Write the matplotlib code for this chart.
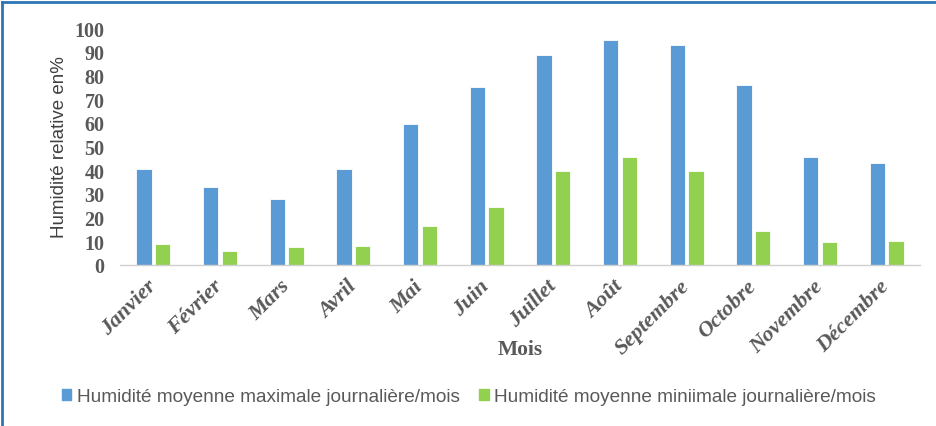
import numpy as np
from matplotlib import pyplot as plt
from matplotlib.lines import Line2D
from matplotlib.patches import Patch
from matplotlib.transforms import ScaledTranslation

mois = ['Janvier', 'Février', 'Mars', 'Avril', 'Mai', 'Juin', 'Juillet',
        'Août', 'Septembre', 'Octobre', 'Novembre', 'Décembre']
hum_max = [40.5, 32.7, 27.8, 40.5, 59.5, 75.3, 88.7, 95.2, 93.1, 76.0, 45.7, 42.9]
hum_min = [8.7, 5.9, 7.3, 8.0, 16.5, 24.3, 39.8, 45.7, 39.8, 14.4, 9.4, 10.2]
y_ticks = list(range(0, 101, 10))

label_max = 'Humidité moyenne maximale journalière/mois'
label_min = 'Humidité moyenne miniimale journalière/mois'

blue = '#5B9BD5'
green = '#92D050'
grey = '#595959'

fig = plt.figure(figsize=(9.36, 4.27), dpi=100)
ax = fig.add_axes([120/936, 1 - 265.7/427, 800/936, (265.7 - 29.3)/427])

x = np.arange(len(mois))
w = 0.23
ax.bar(x - 0.14, hum_max, w, color=blue, edgecolor='white', linewidth=0.6)
ax.bar(x + 0.14, hum_min, w, color=green, edgecolor='white', linewidth=0.6)

ax.set_xlim(-0.5, len(mois) - 0.5)
ax.set_ylim(0, 100)
for s in ['top', 'right', 'left']:
    ax.spines[s].set_visible(False)
ax.spines['bottom'].set_color('#D0D0D0')
ax.spines['bottom'].set_linewidth(1.0)

ax.set_yticks(y_ticks)
ax.set_yticklabels([str(v) for v in y_ticks], family='Liberation Serif',
                   fontweight='bold', fontsize=14.5, color=grey)
ax.set_xticks(x)
ax.set_xticklabels(mois, family='Liberation Serif', fontweight='bold',
                   style='italic', fontsize=16, color=grey,
                   rotation=45, ha='right', va='top')
ax.tick_params(axis='y', length=0, pad=11)
ax.tick_params(axis='x', length=0, pad=8)
# decaler un peu les mois vers la droite
shift = ScaledTranslation(7/100, 0, fig.dpi_scale_trans)
for lab in ax.get_xticklabels():
    lab.set_transform(lab.get_transform() + shift)

ax.set_ylabel('Humidité relative en%', family=['Liberation Sans Narrow', 'Liberation Sans'],
              fontsize=13.5, color='#404040', labelpad=5)
fig.text(520/936, 1 - 350/427, 'Mois', family='Liberation Serif', fontweight='bold',
         fontsize=15.5, color=grey, ha='center', va='center')

handles = [Patch(color=blue), Patch(color=green)]
fig.legend(handles, [label_max, label_min], loc='center', ncol=2,
           bbox_to_anchor=(469/936, 1 - 398/427), frameon=False,
           prop={'family': ['Liberation Sans Narrow', 'Liberation Sans'], 'size': 13.7},
           labelcolor=grey, handlelength=0.5, handleheight=0.5,
           handletextpad=0.3, columnspacing=1.0)

# cadre bleu en haut et a gauche
fig.add_artist(Line2D([2/936, 2/936], [0, 1 - 3/427], transform=fig.transFigure,
                      color='#2E75B6', linewidth=2))
fig.add_artist(Line2D([2/936, 1], [1 - 3/427, 1 - 3/427], transform=fig.transFigure,
                      color='#2E75B6', linewidth=2))

plt.savefig('out.png', dpi=100)
